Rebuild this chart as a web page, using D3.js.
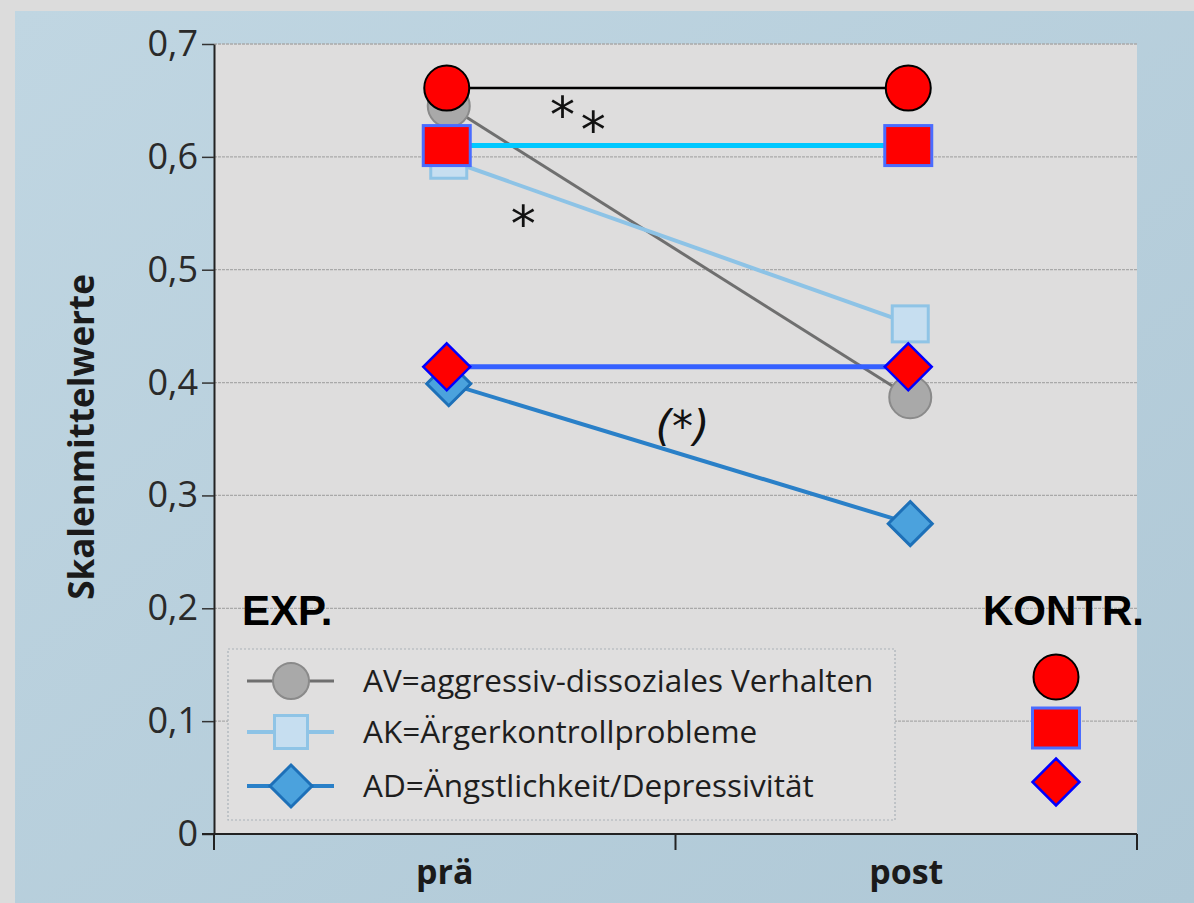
<!DOCTYPE html>
<html lang="de">
  <head>
    <meta charset="UTF-8" />
    <title>Skalenmittelwerte prä / post</title>
    <script src="https://cdnjs.cloudflare.com/ajax/libs/d3/7.9.0/d3.min.js"></script>
    <style>
      html,
      body {
        margin: 0;
        padding: 0;
        background: #dcdcdc;
      }
      svg {
        display: block;
      }
      .tick text {
        font-family: "Open Sans", "Noto Sans", sans-serif;
      }
    </style>
  </head>
  <body>
    <svg id="chart" width="1194" height="903"></svg>

    <script>
      /* ---------- data ---------- */
      const phases = ["prä", "post"];
      const yTicks = [0, 0.1, 0.2, 0.3, 0.4, 0.5, 0.6, 0.7];

      const seriesKeys = ["AV", "AK", "AD"];
      const legendLabels = [
        "AV=aggressiv-dissoziales Verhalten",
        "AK=Ärgerkontrollprobleme",
        "AD=Ängstlichkeit/Depressivität",
      ];

      // experimental group
      const expAV = [0.645, 0.387];
      const expAK = [0.597, 0.452];
      const expAD = [0.399, 0.275];

      // control group (red overlay)
      const ctrlAV = [0.661, 0.661];
      const ctrlAK = [0.61, 0.61];
      const ctrlAD = [0.414, 0.414];

      /* ---------- setup ---------- */
      const W = 1194,
        H = 903;
      const plot = { left: 214, right: 1137, top: 44, bottom: 834 };

      const svg = d3.select("#chart");

      const x = d3
        .scaleBand()
        .domain(phases)
        .range([plot.left, plot.right])
        .padding(0);
      const cx = (p) => x(p) + x.bandwidth() / 2;

      const y = d3.scaleLinear().domain([0, 0.7]).range([plot.bottom, plot.top]);

      const de = d3.formatLocale({
        decimal: ",",
        thousands: ".",
        grouping: [3],
        currency: ["", " €"],
      });
      const fmt1 = de.format(".1f");
      const tickFmt = (d) => (d === 0 ? "0" : fmt1(d));

      // styles per series
      const expStyle = {
        AV: { line: "#6f6f6f", lw: 3, fill: "#a9a9a9", stroke: "#8a8a8a", sw: 2, shape: "circle", size: 21 },
        AK: { line: "#8dc3e6", lw: 4, fill: "#c6def0", stroke: "#8fc4e6", sw: 3, shape: "square", size: 36 },
        AD: { line: "#2a80c8", lw: 4, fill: "#4ba2dd", stroke: "#1d70b8", sw: 3, shape: "diamond", size: 22 },
      };
      const ctrlStyle = {
        AV: { line: "#000000", lw: 2.5, fill: "#ff0000", stroke: "#000000", sw: 2, shape: "circle", size: 22.5 },
        AK: { line: "#00c8ff", lw: 5, fill: "#ff0000", stroke: "#4a6cff", sw: 3, shape: "rect", w: 47, h: 40 },
        AD: { line: "#3560ff", lw: 5, fill: "#ff0000", stroke: "#0000ff", sw: 2.5, shape: "diamond", size: 23.5 },
      };

      const expData = { AV: expAV, AK: expAK, AD: expAD };
      const ctrlData = { AV: ctrlAV, AK: ctrlAK, AD: ctrlAD };

      /* ---------- background ---------- */
      const defs = svg.append("defs");
      const grad = defs
        .append("linearGradient")
        .attr("id", "bluebg")
        .attr("x1", "0")
        .attr("x2", "1")
        .attr("y1", "0")
        .attr("y2", "1");
      grad.append("stop").attr("offset", "0%").attr("stop-color", "#c0d6e2");
      grad.append("stop").attr("offset", "100%").attr("stop-color", "#afc8d6");

      svg.append("rect").attr("width", W).attr("height", H).attr("fill", "#dcdcdc");
      svg
        .append("rect")
        .attr("x", 15)
        .attr("y", 11)
        .attr("width", W - 15)
        .attr("height", H - 11)
        .attr("fill", "url(#bluebg)");
      svg
        .append("rect")
        .attr("x", plot.left)
        .attr("y", plot.top)
        .attr("width", plot.right - plot.left)
        .attr("height", plot.bottom - plot.top)
        .attr("fill", "#dedddd");

      /* ---------- grid ---------- */
      svg
        .append("g")
        .selectAll("line")
        .data(yTicks.filter((d) => d > 0))
        .join("line")
        .attr("x1", plot.left)
        .attr("x2", plot.right)
        .attr("y1", (d) => y(d))
        .attr("y2", (d) => y(d))
        .attr("stroke", "#a9a9a9")
        .attr("stroke-width", 1.3)
        .attr("stroke-dasharray", "3,1");

      /* ---------- axes ---------- */
      const yAxis = svg
        .append("g")
        .attr("transform", `translate(${plot.left},0)`)
        .call(
          d3
            .axisLeft(y)
            .tickValues(yTicks)
            .tickFormat(tickFmt)
            .tickSize(12)
            .tickSizeOuter(0)
            .tickPadding(4)
        );
      yAxis.select(".domain").attr("stroke", "#222").attr("stroke-width", 2);
      yAxis.selectAll(".tick line").attr("stroke", "#333").attr("stroke-width", 1.5);
      yAxis
        .selectAll(".tick text")
        .attr("font-size", 36)
        .attr("fill", "#2a2a2a");

      // x axis: line with ticks at the band boundaries
      const xAxis = svg
        .append("g")
        .attr("transform", `translate(0,${plot.bottom})`)
        .call(d3.axisBottom(x).tickSize(0).tickPadding(26));
      xAxis.select(".domain").remove();
      xAxis
        .selectAll(".tick text")
        .attr("font-size", 34)
        .attr("font-weight", 700)
        .attr("fill", "#1a1a1a");

      const bounds = [plot.left, ...phases.map((p) => x(p) + x.bandwidth())];
      xAxis
        .append("line")
        .attr("x1", plot.left - 12)
        .attr("x2", plot.right)
        .attr("stroke", "#222")
        .attr("stroke-width", 2);
      xAxis
        .selectAll("line.bound")
        .data(bounds)
        .join("line")
        .attr("class", "bound")
        .attr("x1", (d) => d)
        .attr("x2", (d) => d)
        .attr("y1", 0)
        .attr("y2", 16)
        .attr("stroke", "#222")
        .attr("stroke-width", 2);

      svg
        .append("text")
        .attr("transform", `translate(94,437) rotate(-90)`)
        .attr("text-anchor", "middle")
        .attr("font-family", "'Open Sans', 'Noto Sans', sans-serif")
        .attr("font-weight", 700)
        .attr("font-size", 35)
        .attr("fill", "#1a1a1a")
        .text("Skalenmittelwerte");

      /* ---------- marker helper ---------- */
      function marker(g, st, px, py) {
        if (st.shape === "circle") {
          g.append("circle").attr("cx", px).attr("cy", py).attr("r", st.size);
        } else if (st.shape === "square") {
          g.append("rect")
            .attr("x", px - st.size / 2)
            .attr("y", py - st.size / 2)
            .attr("width", st.size)
            .attr("height", st.size);
        } else if (st.shape === "rect") {
          g.append("rect")
            .attr("x", px - st.w / 2)
            .attr("y", py - st.h / 2)
            .attr("width", st.w)
            .attr("height", st.h);
        } else {
          const s = st.size;
          g.append("path").attr(
            "d",
            `M${px},${py - s}L${px + s},${py}L${px},${py + s}L${px - s},${py}Z`
          );
        }
        g.selectAll("*")
          .attr("fill", st.fill)
          .attr("stroke", st.stroke)
          .attr("stroke-width", st.sw);
      }

      const line = d3
        .line()
        .x((d, i) => cx(phases[i]))
        .y((d) => y(d));

      function drawGroup(data, styles, dx) {
        const grp = svg.append("g");
        seriesKeys.forEach((k) => {
          const st = styles[k];
          grp
            .append("path")
            .attr("d", line(data[k]))
            .attr("transform", `translate(${dx},0)`)
            .attr("fill", "none")
            .attr("stroke", st.line)
            .attr("stroke-width", st.lw);
        });
        seriesKeys.forEach((k) => {
          data[k].forEach((v, i) => {
            marker(grp.append("g"), styles[k], cx(phases[i]) + dx, y(v));
          });
        });
      }

      /* ---------- legend box (experimental) ---------- */
      const leg = svg.append("g");
      leg
        .append("rect")
        .attr("x", 228)
        .attr("y", 649)
        .attr("width", 667)
        .attr("height", 171)
        .attr("fill", "#e0dfdf")
        .attr("stroke", "#a9b1b8")
        .attr("stroke-width", 1.2)
        .attr("stroke-dasharray", "2,2");

      const legY = [681, 732, 786];
      const legShapes = {
        AV: { ...expStyle.AV, size: 18 },
        AK: { ...expStyle.AK, size: 33 },
        AD: { ...expStyle.AD, size: 21 },
      };
      seriesKeys.forEach((k, i) => {
        const st = legShapes[k];
        const g = leg.append("g");
        g.append("line")
          .attr("x1", 247)
          .attr("x2", 334)
          .attr("y1", legY[i])
          .attr("y2", legY[i])
          .attr("stroke", st.line)
          .attr("stroke-width", st.lw);
        marker(g.append("g"), st, 291, legY[i]);
        leg
          .append("text")
          .attr("x", 363)
          .attr("y", legY[i])
          .attr("dy", "0.36em")
          .attr("font-family", "'Open Sans', 'Noto Sans', sans-serif")
          .attr("font-size", 31.5)
          .attr("fill", "#1e1e1e")
          .text(legendLabels[i]);
      });

      /* ---------- series ---------- */
      drawGroup(expData, expStyle, 4);

      /* ---------- significance marks ---------- */
      const midX = (t) => cx(phases[0]) + t * (cx(phases[1]) - cx(phases[0]));
      const sig = svg
        .append("g")
        .attr("font-family", "'DejaVu Sans', sans-serif")
        .attr("fill", "#111")
        .attr("text-anchor", "middle");
      sig.append("text").attr("x", midX(0.255)).attr("y", y(0.646) + 27).attr("font-size", 50).text("*");
      sig.append("text").attr("x", midX(0.322)).attr("y", y(0.633) + 27).attr("font-size", 50).text("*");
      sig.append("text").attr("x", midX(0.17)).attr("y", y(0.543) + 20).attr("font-size", 50).text("*");
      sig
        .append("text")
        .attr("x", midX(0.515))
        .attr("y", y(0.362) + 16)
        .attr("font-size", 42)
        .attr("font-style", "italic")
        .text("(*)");

      drawGroup(ctrlData, ctrlStyle, 2);

      /* ---------- group labels + control legend ---------- */
      const lab = svg
        .append("g")
        .attr("font-family", "'Liberation Sans', Arial, sans-serif")
        .attr("font-weight", 700)
        .attr("font-size", 42)
        .attr("fill", "#000");
      lab.append("text").attr("x", 242).attr("y", 625).text("EXP.");
      lab.append("text").attr("x", 983).attr("y", 625).text("KONTR.");

      const ctrlLegY = [677, 728, 782];
      seriesKeys.forEach((k, i) => {
        marker(svg.append("g"), ctrlStyle[k], 1056, ctrlLegY[i]);
      });
    </script>
  </body>
</html>
